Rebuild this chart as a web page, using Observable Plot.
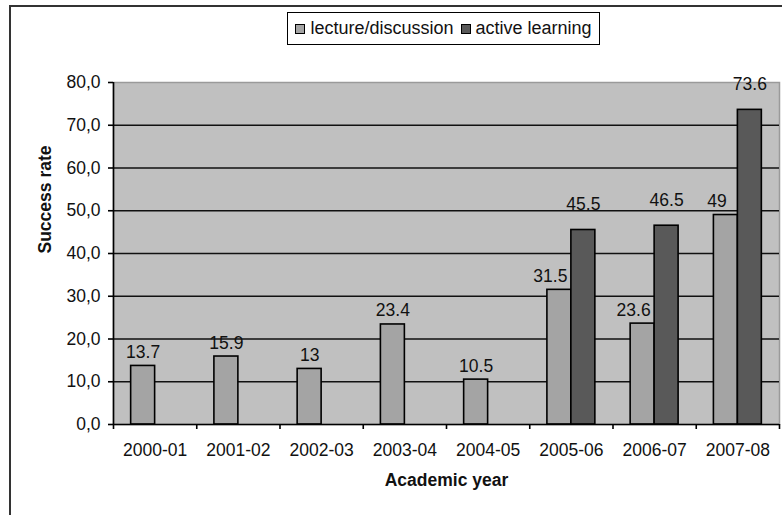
<!DOCTYPE html>
<html>
<head>
<meta charset="utf-8">
<script src="https://cdn.jsdelivr.net/npm/d3@7"></script>
<script src="https://cdn.jsdelivr.net/npm/@observablehq/plot@0.6"></script>
<style>
  html, body { margin: 0; padding: 0; background: #fff; }
  #wrap { position: relative; width: 782px; height: 515px; overflow: hidden; background: #fff;
          font-family: "Liberation Sans", Arial, sans-serif; }
  #border { position: absolute; left: 9px; top: 5px; width: 900px; height: 700px;
            border: 2px solid #333; box-sizing: border-box; }
  #chart { position: absolute; left: 0; top: 0; }
  #legend { position: absolute; left: 287px; top: 12px; width: 313px; height: 33px;
            border: 1.5px solid #000; box-sizing: border-box; background: #fff;
            display: flex; align-items: center; justify-content: center; gap: 7px;
            font-size: 18px; color: #111; }
  .item { display: flex; align-items: center; gap: 5px; }
  .sw { width: 8px; height: 8px; border: 1px solid #000; display: inline-block; }
</style>
</head>
<body>
<div id="wrap">
  <div id="border"></div>
  <div id="chart"></div>
  <div id="legend"></div>
</div>
<script>
// ---- data ----
const years = ["2000-01", "2001-02", "2002-03", "2003-04", "2004-05", "2005-06", "2006-07", "2007-08"];
const lecture = [13.7, 15.9, 13, 23.4, 10.5, 31.5, 23.6, 49];
const active = [null, null, null, null, null, 45.5, 46.5, 73.6];
const seriesNames = ["lecture/discussion", "active learning"];
const seriesColors = ["#a4a4a4", "#595959"];
const yTicks = [0, 10, 20, 30, 40, 50, 60, 70, 80];

// ---- layout constants (category units) ----
const barStart = 0.212;   // gap before the first bar inside a category
const barWidth = 0.288;   // width of one bar as a fraction of a category

const rows = [];
years.forEach((y, i) => {
  const paired = active[i] != null;
  if (lecture[i] != null) rows.push({i, year: y, series: seriesNames[0], k: 0, value: lecture[i], paired});
  if (active[i] != null) rows.push({i, year: y, series: seriesNames[1], k: 1, value: active[i], paired});
});
const x1 = d => d.i + barStart + d.k * barWidth;
const x2 = d => d.i + barStart + (d.k + 1) * barWidth;
const xc = d => d.i + barStart + (d.k + 0.5) * barWidth;

const fs = 17.5;
const chart = Plot.plot({
  width: 782,
  height: 515,
  marginLeft: 113,
  marginRight: 3,
  marginTop: 82,
  marginBottom: 91,
  style: {fontFamily: "'Liberation Sans', Arial, sans-serif", fontSize: fs + "px", color: "#111", background: "transparent"},
  x: {type: "linear", domain: [0, years.length]},
  y: {domain: [0, 80]},
  marks: [
    Plot.frame({fill: "#c0c0c0", stroke: "#9a9a9a", strokeWidth: 1.5}),
    Plot.ruleY(yTicks.slice(1, -1), {stroke: "#111", strokeWidth: 1.6}),
    Plot.rectY(rows, {x1, x2, y1: 0, y2: "value", fill: d => seriesColors[d.k], stroke: "#000", strokeWidth: 1.6}),
    Plot.text(rows.filter(d => d.k === 0 && !d.paired), {x: xc, y: "value", text: d => String(d.value), lineAnchor: "bottom", dy: -8, fontSize: fs}),
    Plot.text(rows.filter(d => d.k === 0 && d.paired), {x: xc, y: "value", text: d => String(d.value), lineAnchor: "bottom", dx: -9, dy: -8, fontSize: fs}),
    Plot.text(rows.filter(d => d.k === 1), {x: xc, y: "value", text: d => String(d.value), lineAnchor: "bottom", dy: -20, fontSize: fs}),
    Plot.ruleY([0], {stroke: "#000", strokeWidth: 1.6}),
    Plot.ruleX([0], {stroke: "#000", strokeWidth: 1.6}),
    Plot.axisY({ticks: yTicks, tickFormat: d => d.toFixed(1).replace(".", ","), tickSize: 5, tickPadding: 8,
                label: null, stroke: "#000", strokeWidth: 1.6, fontSize: fs}),
    Plot.axisX({ticks: d3.range(0, years.length + 1), tickFormat: () => "", tickSize: 5, label: null, stroke: "#000", strokeWidth: 1.6}),
    Plot.axisX({ticks: years.map((d, i) => i + 0.5), tickFormat: v => years[Math.floor(v)], tickSize: 0, tickPadding: 19, label: null, fontSize: fs}),
    Plot.text(["Success rate"], {frameAnchor: "left", rotate: -90, dx: -68, fontWeight: "bold", fontSize: 17.5}),
    Plot.text(["Academic year"], {frameAnchor: "bottom", dy: 61, fontWeight: "bold", fontSize: 17.5})
  ]
});
document.getElementById("chart").appendChild(chart);

// legend
const legend = d3.select("#legend");
seriesNames.forEach((name, k) => {
  const item = legend.append("div").attr("class", "item");
  item.append("span").attr("class", "sw").style("background", seriesColors[k]);
  item.append("span").text(name);
});
</script>
</body>
</html>
